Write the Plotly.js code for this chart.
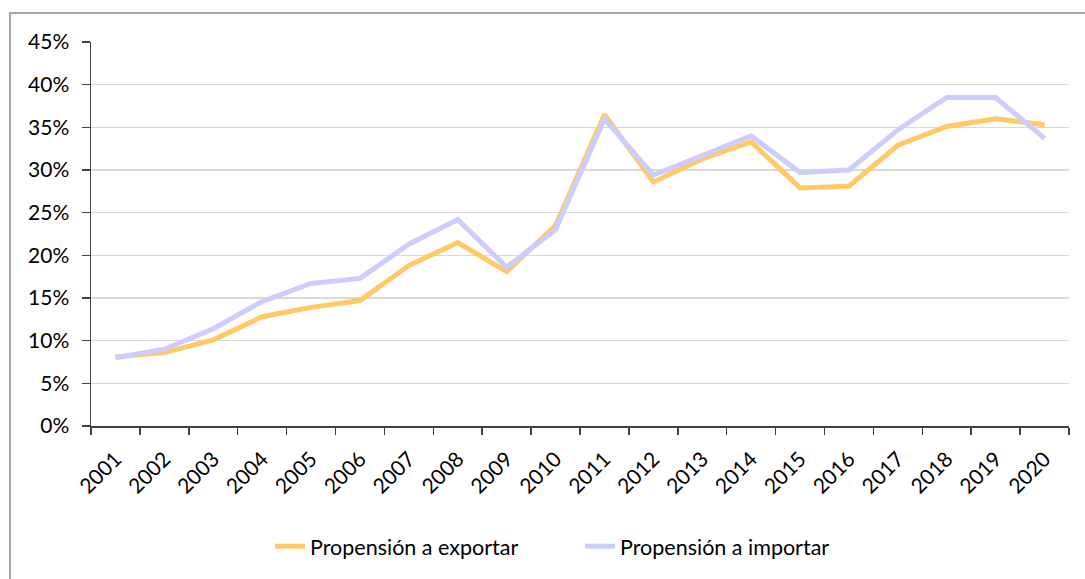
<!DOCTYPE html>
<html>
<head>
<meta charset="utf-8">
<script src="https://cdn.plot.ly/plotly-3.0.1.min.js"></script>
<style>
html,body{margin:0;padding:0;background:#fff;}
#frame{position:absolute;left:9px;top:12px;width:1090px;height:580px;border-left:2px solid #A6A6A6;border-top:2px solid #A6A6A6;box-sizing:border-box;}
#chart{position:absolute;left:0;top:0;width:1085px;height:579px;}
</style>
</head>
<body>
<div id="frame"></div>
<div id="chart"></div>
<script>
const years = ["2001","2002","2003","2004","2005","2006","2007","2008","2009","2010","2011","2012","2013","2014","2015","2016","2017","2018","2019","2020"];
const exportar = [0.081,0.086,0.101,0.128,0.139,0.147,0.188,0.215,0.181,0.235,0.365,0.286,0.313,0.333,0.279,0.281,0.329,0.351,0.360,0.353];
const importar = [0.080,0.090,0.114,0.146,0.167,0.173,0.213,0.242,0.186,0.230,0.360,0.294,0.317,0.340,0.297,0.300,0.347,0.385,0.385,0.337];
const yTicks = [0,0.05,0.10,0.15,0.20,0.25,0.30,0.35,0.40,0.45];
const yTickLabels = ["0%","5%","10%","15%","20%","25%","30%","35%","40%","45%"];

const font = {family: "Lato, 'Open Sans', sans-serif", size: 21, color: "#000"};

const traces = [
  {x: years, y: exportar, type: "scatter", mode: "lines", name: "Propensión a exportar",
   line: {color: "#FFC965", width: 5}},
  {x: years, y: importar, type: "scatter", mode: "lines", name: "Propensión a importar",
   line: {color: "#CCCCFF", width: 5}}
];

const layout = {
  width: 1085, height: 579,
  margin: {l: 91, r: 16, t: 42, b: 143},
  paper_bgcolor: "rgba(0,0,0,0)", plot_bgcolor: "rgba(0,0,0,0)",
  font: font,
  showlegend: true,
  legend: {orientation: "h", x: 0.5, xanchor: "center", y: -0.26, yanchor: "top",
           font: {family: "Lato, 'Open Sans', sans-serif", size: 21.5, color: "#000"},
           entrywidth: 265, entrywidthmode: "pixels", tracegroupgap: 0},
  xaxis: {
    type: "category", range: [-0.5, 19.5], tickson: "boundaries", ticks: "outside", ticklen: 7, tickwidth: 1.5,
    tickcolor: "#404040", showline: true, linecolor: "#404040", linewidth: 1.5, ticklabelstandoff: 11,
    showgrid: false, tickangle: -45, tickfont: font, zeroline: false, fixedrange: true
  },
  yaxis: {
    range: [0, 0.45], tickvals: yTicks, ticktext: yTickLabels, ticks: "outside", ticklen: 8,
    tickwidth: 1.5, tickcolor: "#404040", showline: true, linecolor: "#404040", linewidth: 1.5,
    ticklabelstandoff: 8,
    showgrid: true, gridcolor: "#D9D9D9", gridwidth: 1.5, zeroline: false, tickfont: font,
    fixedrange: true
  }
};

Plotly.newPlot("chart", traces, layout, {displayModeBar: false, staticPlot: true});
</script>
</body>
</html>
